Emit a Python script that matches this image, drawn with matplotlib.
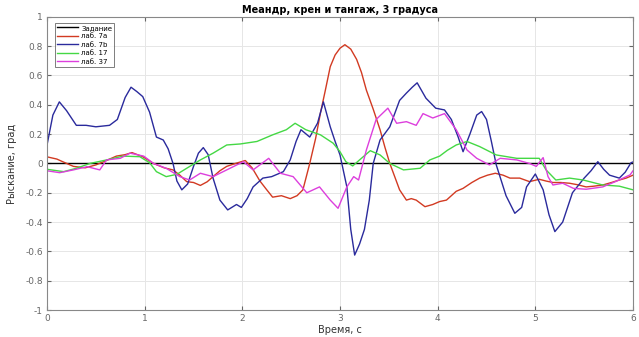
import matplotlib
matplotlib.use("Agg")
import matplotlib.pyplot as plt

# reference (task) line
t_ref = [0.0, 6.0]
v_ref = [0.0, 0.0]

# lab 7a (red)
t_7a = [0.0, 0.1, 0.16, 0.27, 0.39, 0.5, 0.58, 0.71, 0.8, 0.87, 0.98, 1.09, 1.2, 1.29, 1.36,
        1.43, 1.5, 1.57, 1.64, 1.7, 1.77, 1.84, 1.93, 2.03, 2.1, 2.18, 2.25, 2.31, 2.4, 2.49,
        2.56, 2.62, 2.69, 2.75, 2.8, 2.85, 2.9, 2.95, 3.0, 3.05, 3.11, 3.17, 3.22, 3.27, 3.34,
        3.41, 3.46, 3.51, 3.56, 3.61, 3.68, 3.73, 3.78, 3.87, 3.95, 4.02, 4.09, 4.19, 4.26,
        4.35, 4.43, 4.51, 4.59, 4.67, 4.74, 4.84, 4.94, 5.04, 5.11, 5.18, 5.26, 5.35, 5.43,
        5.52, 5.6, 5.69, 5.78, 5.86, 5.93, 6.0]
v_7a = [0.045, 0.03, 0.012, -0.02, -0.03, -0.01, 0.012, 0.05, 0.06, 0.074, 0.046, 0.0, -0.03,
        -0.044, -0.08, -0.124, -0.13, -0.15, -0.125, -0.09, -0.05, -0.02, 0.0, 0.02, -0.03,
        -0.12, -0.18, -0.23, -0.22, -0.24, -0.22, -0.18, -0.0, 0.17, 0.345, 0.5, 0.66, 0.74,
        0.786, 0.81, 0.78, 0.71, 0.62, 0.5, 0.37, 0.23, 0.11, 0.0, -0.09, -0.18, -0.25, -0.24,
        -0.25, -0.295, -0.28, -0.26, -0.25, -0.19, -0.17, -0.13, -0.1, -0.08, -0.067, -0.08,
        -0.1, -0.1, -0.124, -0.108, -0.12, -0.13, -0.13, -0.135, -0.145, -0.16, -0.155, -0.147,
        -0.13, -0.113, -0.1, -0.08]

# lab 7b (blue)
t_7b = [0.0, 0.06, 0.126, 0.2, 0.3, 0.4, 0.5, 0.64, 0.72, 0.8, 0.86, 0.92, 0.98, 1.05, 1.12,
        1.19, 1.24, 1.29, 1.33, 1.38, 1.44, 1.5, 1.55, 1.6, 1.65, 1.7, 1.77, 1.85, 1.94, 1.99,
        2.05, 2.11, 2.21, 2.3, 2.42, 2.49, 2.55, 2.6, 2.69, 2.77, 2.83, 2.9, 2.95, 3.0, 3.07,
        3.11, 3.15, 3.2, 3.25, 3.3, 3.34, 3.41, 3.51, 3.61, 3.68, 3.74, 3.79, 3.88, 3.98, 4.07,
        4.14, 4.21, 4.26, 4.33, 4.4, 4.45, 4.5, 4.55, 4.6, 4.7, 4.79, 4.86, 4.91, 5.0, 5.08,
        5.14, 5.2, 5.28, 5.38, 5.5, 5.57, 5.64, 5.7, 5.76, 5.86, 5.92, 5.98, 6.0]
v_7b = [0.126, 0.33, 0.42, 0.36, 0.26, 0.26, 0.25, 0.26, 0.3, 0.45, 0.52, 0.49, 0.456, 0.35,
        0.18, 0.16, 0.1, 0.0, -0.12, -0.18, -0.14, -0.02, 0.07, 0.108, 0.06, -0.1, -0.25,
        -0.317, -0.28, -0.3, -0.24, -0.16, -0.1, -0.09, -0.056, 0.024, 0.15, 0.23, 0.18, 0.275,
        0.42, 0.25, 0.15, 0.058, -0.16, -0.45, -0.625, -0.55, -0.45, -0.25, 0.0, 0.16, 0.25,
        0.43, 0.48, 0.52, 0.55, 0.445, 0.377, 0.365, 0.3, 0.18, 0.08, 0.2, 0.33, 0.354, 0.3,
        0.15, -0.01, -0.22, -0.34, -0.3, -0.16, -0.072, -0.18, -0.35, -0.465, -0.4, -0.2,
        -0.1, -0.05, 0.012, -0.04, -0.08, -0.1, -0.06, 0.005, 0.01]

# lab 17 (green)
t_17 = [0.0, 0.17, 0.3, 0.44, 0.61, 0.78, 0.95, 1.05, 1.12, 1.22, 1.33, 1.43, 1.57, 1.7,
        1.84, 1.98, 2.15, 2.31, 2.45, 2.54, 2.65, 2.8, 2.93, 3.0, 3.06, 3.13, 3.2, 3.31, 3.41,
        3.51, 3.65, 3.82, 3.92, 4.02, 4.1, 4.19, 4.3, 4.43, 4.6, 4.81, 5.04, 5.11, 5.21, 5.35,
        5.49, 5.69, 5.86, 6.0]
v_17 = [-0.04, -0.056, -0.033, 0.0, 0.024, 0.05, 0.046, 0.005, -0.056, -0.09, -0.074,
        -0.033, 0.024, 0.07, 0.126, 0.133, 0.15, 0.195, 0.23, 0.274, 0.23, 0.195, 0.138, 0.08,
        0.012, -0.017, 0.024, 0.087, 0.058, 0.0, -0.044, -0.033, 0.024, 0.05, 0.09, 0.126,
        0.15, 0.115, 0.058, 0.035, 0.035, -0.044, -0.113, -0.1, -0.113, -0.147, -0.155, -0.18]

# lab 37 (magenta)
t_37 = [0.0, 0.13, 0.27, 0.41, 0.54, 0.61, 0.75, 0.85, 0.99, 1.09, 1.22, 1.36, 1.46, 1.57,
        1.7, 1.84, 2.01, 2.11, 2.27, 2.39, 2.52, 2.66, 2.79, 2.9, 2.98, 3.07, 3.14, 3.19, 3.27,
        3.37, 3.49, 3.58, 3.68, 3.78, 3.85, 3.95, 4.07, 4.19, 4.3, 4.4, 4.53, 4.64, 4.81, 4.94,
        5.01, 5.08, 5.13, 5.18, 5.28, 5.39, 5.52, 5.69, 5.82, 5.97, 6.0]
v_37 = [-0.05, -0.063, -0.044, -0.022, -0.044, 0.024, 0.035, 0.07, 0.05, 0.0, -0.033,
        -0.09, -0.113, -0.067, -0.09, -0.044, 0.012, -0.044, 0.035, -0.067, -0.09, -0.2,
        -0.16, -0.25, -0.306, -0.16, -0.09, -0.113, 0.092, 0.3, 0.377, 0.274, 0.285, 0.26,
        0.34, 0.31, 0.34, 0.23, 0.092, 0.035, -0.01, 0.035, 0.024, 0.0, -0.02, 0.04, -0.09,
        -0.147, -0.135, -0.17, -0.176, -0.16, -0.124, -0.078, -0.05]

labels = ["Задание", "лаб. 7a", "лаб. 7b", "лаб. 17", "лаб. 37"]
colors = ["#000000", "#d23a22", "#2a2a9c", "#44d844", "#dd3fdd"]

x_ticks = [0, 1, 2, 3, 4, 5, 6]
y_ticks = [-1, -0.8, -0.6, -0.4, -0.2, 0, 0.2, 0.4, 0.6, 0.8, 1]
y_tick_labels = ["-1", "-0.8", "-0.6", "-0.4", "-0.2", "0", "0.2", "0.4", "0.6", "0.8", "1"]

fig = plt.figure(figsize=(6.39, 3.37), dpi=100, facecolor="white")
ax = fig.add_axes([0.0736, 0.080, 0.917, 0.870])

series = [(t_ref, v_ref), (t_7a, v_7a), (t_7b, v_7b), (t_17, v_17), (t_37, v_37)]
for (t, v), lab, c in zip(series, labels, colors):
    ax.plot(t, v, color=c, lw=1.0, label=lab)

ax.set_xlim(0, 6)
ax.set_ylim(-1, 1)
ax.set_xticks(x_ticks)
ax.set_yticks(y_ticks)
ax.set_yticklabels(y_tick_labels)
ax.grid(True, color="#e6e6e6", lw=0.7)
ax.set_axisbelow(True)
ax.tick_params(axis="both", labelsize=6.5, colors="#666666", direction="in", length=3,
               top=True, right=True, pad=3)
for s in ax.spines.values():
    s.set_color("#888888")
    s.set_linewidth(0.8)

ax.set_title("Меандр, крен и тангаж, 3 градуса", fontsize=7, fontweight="bold", pad=3)
ax.set_xlabel("Время, с", fontsize=7, color="#333333", labelpad=1)
ax.set_ylabel("Рыскание, град", fontsize=7, color="#333333", labelpad=6)

leg = ax.legend(loc="upper left", fontsize=5, frameon=True, fancybox=False,
                borderpad=0.3, labelspacing=0.35, handlelength=3.0, handletextpad=0.5,
                bbox_to_anchor=(0.013, 0.98), borderaxespad=0)
leg.get_frame().set_edgecolor("#444444")
leg.get_frame().set_linewidth(0.6)

fig.savefig("out.png", dpi=100, facecolor="white")
